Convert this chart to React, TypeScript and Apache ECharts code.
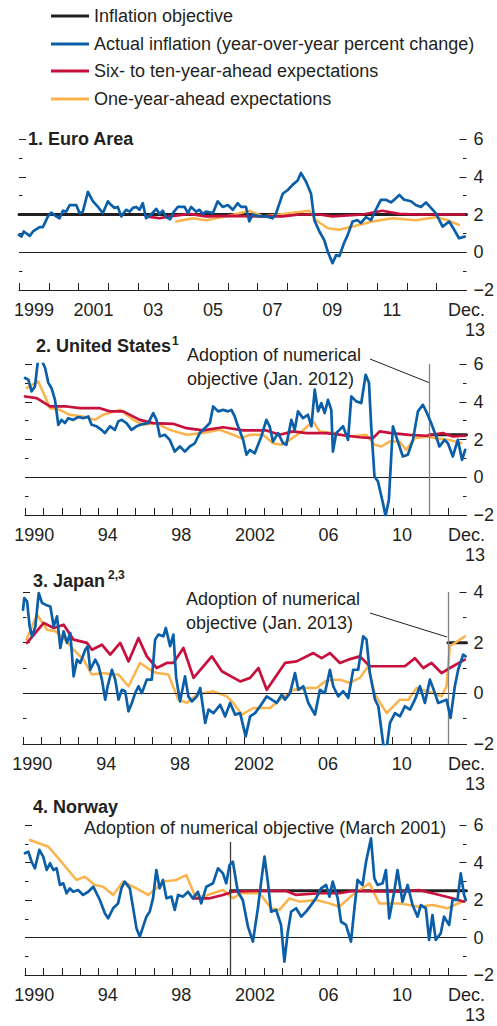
import { useEffect, useRef } from 'react';
import * as echarts from 'echarts';

const FONT = '"Liberation Sans", Arial, Helvetica, sans-serif';
const INK = '#231f20';

const NAME_OBJ = 'Inflation objective';
const NAME_ACT = 'Actual inflation (year-over-year percent change)';
const NAME_LONG = 'Six- to ten-year-ahead expectations';
const NAME_SHORT = 'One-year-ahead expectations';

const COLOR_OBJ = '#231f20';
const COLOR_ACT = '#0b5fa9';
const COLOR_LONG = '#c8103c';
const COLOR_SHORT = '#fbb34c';

// ---------- axis ticks and labels ----------
const EURO_TICKS = [1999, 2000, 2001, 2002, 2003, 2004, 2005, 2006, 2007, 2008, 2009, 2010, 2011, 2012, 2013];
const EURO_LABEL_AT = [1999.5, 2001.5, 2003.5, 2005.5, 2007.5, 2009.5, 2011.5, 2014];
const EURO_LABELS = ['1999', '2001', '03', '05', '07', '09', '11', 'Dec.\n13'];

const LONG_TICKS = [1990, 1991, 1992, 1993, 1994, 1995, 1996, 1997, 1998, 1999, 2000, 2001, 2002, 2003, 2004, 2005, 2006, 2007, 2008, 2009, 2010, 2011, 2012, 2013];
const LONG_LABEL_AT = [1990.5, 1994.5, 1998.5, 2002.5, 2006.5, 2010.5, 2014];
const LONG_LABELS = ['1990', '94', '98', '2002', '06', '10', 'Dec.\n13'];

// ---------- 1. Euro Area ----------
const EURO_OBJ = [[1999, 2], [2014, 2]];
const EURO_ACTUAL = [
  [1999.00, 0.92], [1999.08, 0.83], [1999.16, 1.10], [1999.36, 0.87], [1999.47, 1.10], [1999.69, 1.33], [1999.80, 1.33],
  [1999.97, 1.90], [2000.08, 2.10], [2000.25, 1.90], [2000.36, 1.80], [2000.47, 2.20], [2000.58, 2.15], [2000.70, 2.50],
  [2000.92, 2.50], [2001.03, 2.07], [2001.14, 2.15], [2001.31, 3.20], [2001.48, 2.70], [2001.65, 2.40], [2001.81, 2.07],
  [2001.98, 2.70], [2002.09, 2.50], [2002.20, 2.35], [2002.31, 2.40], [2002.43, 1.90], [2002.59, 2.25], [2002.71, 2.15],
  [2002.82, 2.35], [2002.93, 2.40], [2003.04, 2.25], [2003.15, 2.60], [2003.26, 1.80], [2003.43, 2.00], [2003.60, 2.30],
  [2003.71, 2.03], [2003.82, 2.20], [2003.93, 1.86], [2004.07, 1.75], [2004.16, 2.07], [2004.32, 2.40], [2004.55, 2.40],
  [2004.66, 2.07], [2004.77, 2.40], [2004.94, 2.15], [2005.05, 2.25], [2005.16, 2.03], [2005.27, 2.15], [2005.50, 2.07],
  [2005.66, 2.70], [2005.83, 2.40], [2006.00, 2.50], [2006.17, 2.25], [2006.33, 2.60], [2006.44, 2.40], [2006.61, 2.40],
  [2006.72, 1.63], [2006.83, 2.00], [2007.06, 1.90], [2007.28, 1.90], [2007.50, 1.80], [2007.62, 2.07], [2007.84, 3.10],
  [2008.01, 3.30], [2008.17, 3.57], [2008.34, 3.80], [2008.45, 4.20], [2008.62, 3.75], [2008.79, 3.10], [2008.90, 1.70],
  [2009.07, 1.10], [2009.23, 0.65], [2009.35, 0.03], [2009.51, -0.58], [2009.63, -0.15], [2009.74, -0.20], [2009.90, 0.50],
  [2010.02, 0.92], [2010.18, 1.63], [2010.35, 1.70], [2010.46, 1.55], [2010.63, 1.86], [2010.80, 1.70], [2010.96, 2.25],
  [2011.13, 2.78], [2011.30, 2.78], [2011.47, 2.64], [2011.58, 2.78], [2011.75, 3.04], [2011.91, 2.78], [2012.14, 2.70],
  [2012.30, 2.50], [2012.47, 2.40], [2012.64, 2.64], [2012.81, 2.35], [2012.97, 2.07], [2013.20, 1.36], [2013.42, 1.63],
  [2013.59, 1.19], [2013.75, 0.74], [2013.94, 0.83],
];
const EURO_LONG = [
  [2003.26, 1.90], [2003.71, 1.80], [2004.05, 1.90], [2004.72, 2.03], [2005.27, 1.90], [2006.17, 1.93], [2007.06, 1.90],
  [2007.84, 1.90], [2008.40, 2.00], [2009.07, 2.00], [2009.51, 1.90], [2010.52, 2.00], [2011.18, 2.20], [2011.75, 2.03],
  [2012.30, 2.00], [2013.94, 2.00],
];
const EURO_SHORT = [
  [2004.27, 1.63], [2004.83, 1.80], [2005.27, 1.70], [2005.94, 1.90], [2006.39, 2.07], [2006.72, 2.20], [2007.17, 1.90],
  [2007.73, 2.00], [2008.73, 2.20], [2008.96, 1.70], [2009.35, 1.27], [2009.74, 1.19], [2010.18, 1.36], [2010.85, 1.63],
  [2011.52, 1.80], [2012.30, 1.70], [2012.97, 1.86], [2013.31, 1.72], [2013.75, 1.45],
];

// ---------- 2. United States ----------
const US_ADOPTION = 2012.0;
const US_OBJ = [[2012.0, 2.25], [2014, 2.25]];
const US_ACTUAL = [
  [1990.00, 5.26], [1990.18, 5.17], [1990.36, 4.55], [1990.54, 4.81], [1990.72, 6.30], [1990.90, 6.20], [1991.09, 5.80],
  [1991.27, 5.00], [1991.45, 4.70], [1991.63, 4.10], [1991.81, 2.78], [1991.99, 3.04], [1992.17, 2.87], [1992.35, 3.13],
  [1992.62, 3.04], [1992.90, 3.19], [1993.17, 3.13], [1993.44, 3.22], [1993.62, 2.78], [1993.89, 2.70], [1994.16, 2.51],
  [1994.34, 2.34], [1994.62, 2.70], [1994.89, 2.51], [1995.07, 2.96], [1995.25, 3.04], [1995.52, 2.87], [1995.79, 2.51],
  [1996.06, 2.70], [1996.43, 2.83], [1996.70, 2.87], [1996.97, 3.40], [1997.15, 3.04], [1997.33, 2.16], [1997.60, 2.25],
  [1997.87, 1.98], [1998.14, 1.36], [1998.42, 1.63], [1998.69, 1.36], [1998.96, 1.63], [1999.23, 1.80], [1999.50, 2.34],
  [1999.77, 2.60], [2000.05, 2.87], [2000.23, 3.75], [2000.50, 3.49], [2000.77, 3.57], [2001.04, 3.49], [2001.22, 3.57],
  [2001.40, 3.22], [2001.58, 2.70], [2001.86, 1.98], [2002.04, 1.19], [2002.22, 1.45], [2002.49, 1.27], [2002.67, 1.72],
  [2002.85, 2.16], [2003.12, 3.04], [2003.30, 2.70], [2003.48, 1.89], [2003.76, 2.34], [2004.03, 1.80], [2004.21, 1.72],
  [2004.48, 3.04], [2004.66, 2.51], [2004.84, 3.49], [2005.11, 3.13], [2005.38, 3.31], [2005.57, 2.70], [2005.75, 4.64],
  [2005.93, 3.49], [2006.11, 3.93], [2006.29, 3.40], [2006.47, 4.10], [2006.65, 3.57], [2006.74, 1.36], [2006.92, 2.34],
  [2007.10, 2.51], [2007.29, 2.70], [2007.56, 1.98], [2007.74, 4.28], [2008.01, 4.02], [2008.28, 3.93], [2008.52, 5.43],
  [2008.70, 5.00], [2008.82, 2.70], [2009.00, 0.04], [2009.19, -0.23], [2009.46, -1.38], [2009.60, -2.05], [2009.78, -1.20],
  [2010.00, 2.70], [2010.18, 2.16], [2010.36, 1.63], [2010.54, 1.10], [2010.81, 1.19], [2011.09, 1.98], [2011.36, 3.49],
  [2011.63, 3.84], [2011.81, 3.49], [2012.08, 2.87], [2012.35, 2.16], [2012.53, 1.63], [2012.81, 1.98], [2012.99, 1.80],
  [2013.26, 1.10], [2013.53, 1.98], [2013.76, 0.92], [2013.93, 1.45],
];
const US_LONG = [
  [1990.00, 4.28], [1990.63, 4.19], [1991.36, 3.75], [1992.26, 3.75], [1992.99, 3.66], [1994.07, 3.66], [1994.62, 3.49],
  [1995.34, 3.49], [1996.24, 3.04], [1996.97, 2.87], [1998.05, 2.83], [1998.78, 2.60], [1999.68, 2.48], [2000.77, 2.65],
  [2001.86, 2.48], [2003.12, 2.48], [2003.85, 2.25], [2004.57, 2.43], [2005.29, 2.34], [2006.38, 2.34], [2007.10, 2.25],
  [2008.19, 2.12], [2008.91, 2.07], [2009.28, 2.43], [2009.91, 2.34], [2010.90, 2.25], [2011.81, 2.20], [2012.71, 2.34],
  [2013.26, 2.16], [2013.93, 2.20],
];
const US_SHORT = [
  [1990.09, 4.73], [1990.72, 5.08], [1991.09, 4.28], [1991.36, 3.66], [1991.90, 3.57], [1992.44, 3.31], [1993.17, 3.22],
  [1993.80, 3.04], [1994.25, 3.31], [1995.16, 3.57], [1995.52, 3.31], [1995.88, 3.04], [1996.43, 2.78], [1997.15, 2.87],
  [1997.87, 2.51], [1998.78, 2.25], [1999.68, 2.34], [2000.59, 2.51], [2001.31, 2.25], [2001.76, 2.07], [2002.22, 2.25],
  [2002.94, 2.25], [2003.48, 1.80], [2003.94, 1.72], [2004.39, 1.98], [2004.93, 2.34], [2005.66, 2.96], [2006.02, 2.43],
  [2006.74, 2.34], [2007.65, 2.16], [2008.55, 2.25], [2009.00, 1.72], [2009.37, 1.63], [2009.82, 1.89], [2010.36, 1.89],
  [2010.72, 1.45], [2011.18, 2.07], [2011.81, 2.16], [2012.35, 2.07], [2013.08, 1.98], [2013.71, 1.80],
];

// ---------- 3. Japan ----------
const JP_ADOPTION = 2013.0;
const JP_OBJ = [[2013.0, 2], [2014, 2]];
const JP_ACTUAL = [
  [1990.00, 3.30], [1990.07, 3.76], [1990.22, 3.63], [1990.36, 2.64], [1990.49, 2.25], [1990.67, 2.64], [1990.85, 3.96],
  [1991.03, 3.57], [1991.21, 3.50], [1991.48, 3.43], [1991.66, 2.64], [1991.84, 3.04], [1992.02, 1.79], [1992.20, 2.45],
  [1992.38, 1.99], [1992.56, 2.38], [1992.74, 0.67], [1992.92, 1.33], [1993.10, 1.20], [1993.37, 1.72], [1993.50, 1.86],
  [1993.64, 0.93], [1993.91, 1.33], [1994.09, 1.07], [1994.27, 0.54], [1994.45, -0.25], [1994.58, 0.28], [1994.81, 0.93],
  [1994.99, 0.54], [1995.17, -0.25], [1995.35, 0.14], [1995.53, 0.08], [1995.71, -0.71], [1995.89, -0.38], [1996.07, 0.01],
  [1996.25, 0.28], [1996.43, 0.01], [1996.70, 0.54], [1996.97, 0.54], [1997.15, 2.12], [1997.33, 2.32], [1997.60, 2.25],
  [1997.73, 2.58], [1997.96, 1.86], [1998.14, 2.32], [1998.29, 0.61], [1998.50, -0.32], [1998.77, 0.67], [1998.95, -0.12],
  [1999.14, -0.32], [1999.41, -0.12], [1999.59, 0.21], [1999.86, -1.17], [2000.04, -0.64], [2000.31, -0.78], [2000.67, -0.45],
  [2000.94, -0.91], [2001.21, -0.38], [2001.48, -0.84], [2001.75, -0.78], [2002.05, -1.70], [2002.29, -0.91], [2002.56, -0.78],
  [2002.83, -0.51], [2003.19, -0.12], [2003.46, -0.25], [2003.73, -0.38], [2004.00, -0.05], [2004.18, -0.25], [2004.45, 0.01],
  [2004.72, 0.80], [2004.90, 0.14], [2005.17, 0.28], [2005.44, -0.38], [2005.80, -0.84], [2006.07, 0.14], [2006.34, 0.01],
  [2006.61, 0.93], [2006.79, 0.28], [2007.06, -0.12], [2007.33, 0.08], [2007.60, -0.18], [2007.87, 0.93], [2008.14, 0.93],
  [2008.41, 2.25], [2008.59, 2.12], [2008.77, 0.80], [2009.05, -0.25], [2009.23, -0.51], [2009.50, -2.03], [2009.68, -2.16],
  [2009.86, -1.17], [2010.13, -0.78], [2010.40, -0.91], [2010.67, -0.51], [2010.94, -0.64], [2011.21, -0.25], [2011.48, 0.28],
  [2011.75, -0.38], [2012.02, 0.54], [2012.29, 0.01], [2012.47, -0.38], [2012.92, -0.25], [2013.14, -0.97], [2013.37, 0.28],
  [2013.55, 0.93], [2013.82, 1.53], [2013.95, 1.46],
];
const JP_LONG = [
  [1990.22, 1.99], [1991.12, 2.78], [1991.66, 2.58], [1992.20, 2.71], [1992.74, 2.12], [1993.46, 1.99], [1993.73, 1.72],
  [1994.27, 1.92], [1994.72, 1.53], [1995.26, 1.99], [1995.71, 1.26], [1996.25, 2.18], [1996.70, 1.46], [1997.24, 1.00],
  [1997.78, 1.20], [1998.14, 1.20], [1998.68, 1.79], [1999.23, 0.61], [2000.22, 1.46], [2000.76, 0.87], [2001.75, 0.47],
  [2002.29, 0.61], [2002.74, 1.00], [2003.19, 0.14], [2004.18, 1.20], [2004.81, 1.26], [2005.71, 1.59], [2006.16, 1.39],
  [2006.61, 1.59], [2007.15, 1.20], [2007.60, 1.33], [2008.23, 1.46], [2008.77, 1.07], [2009.86, 1.07], [2010.67, 1.07],
  [2011.21, 1.39], [2011.66, 1.00], [2012.11, 1.20], [2012.65, 0.80], [2013.10, 1.00], [2013.91, 1.33],
];
const JP_SHORT = [
  [1990.18, 2.12], [1990.76, 3.10], [1991.30, 2.51], [1991.75, 2.45], [1992.20, 2.18], [1992.74, 1.72], [1993.28, 1.33],
  [1993.73, 0.74], [1994.36, 0.80], [1994.81, 0.74], [1995.17, 0.74], [1995.71, 0.28], [1996.34, 1.20], [1996.88, 0.93],
  [1997.24, 0.80], [1997.87, 0.74], [1998.41, -0.25], [1998.86, -0.38], [1999.41, -0.05], [2000.31, 0.08], [2001.03, -0.12],
  [2001.39, -0.38], [2001.84, -0.84], [2002.47, -0.58], [2003.37, -0.58], [2003.91, -0.25], [2004.63, 0.14], [2005.35, 0.21],
  [2005.89, 0.21], [2006.34, 0.47], [2006.79, 0.54], [2007.15, 0.54], [2007.69, 0.41], [2008.23, 0.61], [2008.68, 1.07],
  [2009.05, -0.05], [2009.68, -0.78], [2010.40, -0.25], [2010.85, -0.25], [2011.30, 0.21], [2011.84, 0.08], [2012.20, 0.01],
  [2012.65, -0.12], [2012.92, 0.28], [2013.10, 1.86], [2013.37, 1.99], [2013.91, 2.25],
];

// ---------- 4. Norway ----------
const NO_ADOPTION = 2001.17;
const NO_ADOPTION_TOP = 5.1;
const NO_OBJ = [[2001.17, 2.5], [2014, 2.5]];
const NO_ACTUAL = [
  [1990.00, 4.49], [1990.18, 4.58], [1990.36, 4.04], [1990.54, 3.69], [1990.78, 4.67], [1990.99, 4.31], [1991.18, 3.60],
  [1991.36, 3.96], [1991.54, 3.60], [1991.72, 3.69], [1991.90, 2.80], [1992.08, 2.89], [1992.26, 2.36], [1992.44, 2.62],
  [1992.62, 2.44], [1992.89, 2.53], [1993.16, 2.27], [1993.44, 2.44], [1993.71, 2.71], [1994.07, 2.00], [1994.34, 1.29],
  [1994.52, 1.02], [1994.79, 1.56], [1995.06, 1.82], [1995.24, 2.62], [1995.42, 2.98], [1995.70, 2.62], [1995.88, 1.56],
  [1996.06, 0.49], [1996.24, 0.04], [1996.42, 0.58], [1996.60, 1.11], [1996.78, 1.38], [1996.96, 2.09], [1997.14, 3.60],
  [1997.32, 2.62], [1997.50, 3.07], [1997.69, 2.09], [1997.96, 2.18], [1998.14, 1.47], [1998.32, 2.27], [1998.59, 2.18],
  [1998.86, 2.44], [1999.13, 2.09], [1999.40, 2.44], [1999.58, 1.82], [1999.86, 2.71], [2000.22, 2.89], [2000.49, 3.69],
  [2000.76, 3.42], [2000.94, 2.89], [2001.12, 3.87], [2001.30, 4.04], [2001.57, 2.44], [2001.84, 2.00], [2002.12, 0.58],
  [2002.39, -0.22], [2002.66, 1.56], [2002.84, 2.98], [2003.02, 4.31], [2003.20, 2.98], [2003.38, 1.38], [2003.65, 1.47],
  [2003.92, 0.67], [2004.10, -1.29], [2004.29, 0.31], [2004.47, 1.38], [2004.74, 1.56], [2005.01, 1.11], [2005.28, 1.38],
  [2005.55, 1.73], [2005.82, 2.09], [2006.09, 2.62], [2006.37, 2.80], [2006.55, 2.18], [2006.73, 2.98], [2007.00, 2.09],
  [2007.18, 0.84], [2007.45, 0.67], [2007.72, -0.22], [2007.90, 1.47], [2008.08, 3.07], [2008.35, 2.80], [2008.54, 4.04],
  [2008.81, 5.29], [2008.99, 3.16], [2009.17, 2.80], [2009.44, 2.89], [2009.62, 3.60], [2009.80, 1.02], [2010.07, 2.44],
  [2010.25, 3.60], [2010.52, 1.91], [2010.80, 2.80], [2011.07, 1.73], [2011.34, 1.11], [2011.52, 1.73], [2011.79, 1.56],
  [2011.97, -0.13], [2012.15, 1.20], [2012.33, -0.13], [2012.60, 0.22], [2012.78, 1.11], [2013.06, 0.67], [2013.24, 2.00],
  [2013.51, 2.00], [2013.69, 3.42], [2013.87, 2.27], [2013.96, 2.00],
];
const NO_LONG = [
  [1999.13, 2.09], [2000.04, 2.09], [2000.76, 2.27], [2001.30, 2.44], [2002.39, 2.48], [2004.20, 2.48], [2004.74, 2.27],
  [2006.00, 2.36], [2007.09, 2.36], [2007.81, 2.48], [2010.34, 2.44], [2011.43, 2.53], [2012.15, 2.36], [2013.24, 2.09],
  [2013.87, 1.91],
];
const NO_SHORT = [
  [1990.27, 5.20], [1991.27, 4.84], [1991.90, 4.13], [1992.80, 3.07], [1993.25, 3.24], [1993.80, 2.80], [1994.25, 2.71],
  [1994.79, 2.27], [1995.33, 2.98], [1996.06, 2.62], [1996.69, 2.27], [1997.14, 2.62], [1997.50, 2.98], [1998.23, 3.07],
  [1998.77, 3.33], [1999.22, 2.27], [1999.67, 2.18], [2000.22, 2.36], [2000.76, 2.53], [2001.30, 2.09], [2001.75, 2.36],
  [2002.75, 2.36], [2003.38, 1.56], [2003.83, 1.47], [2004.38, 2.09], [2004.92, 1.91], [2005.82, 2.00], [2006.55, 1.82],
  [2007.09, 1.64], [2007.81, 2.27], [2008.72, 2.89], [2009.26, 1.82], [2010.34, 1.82], [2011.43, 1.64], [2012.15, 1.73],
  [2012.97, 1.56], [2013.96, 2.00],
];

type Panel = {
  grid: { left: number; top: number; width: number; height: number };
  xMin: number; xMax: number; yMin: number; yMax: number;
  ticks: number[]; labelAt: number[]; labels: string[];
  obj: number[][]; actual: number[][]; long: number[][]; short: number[][];
  adoption: any[] | null; adoptionColor: string;
};

const PANELS: Panel[] = [
  {
    grid: { left: 19, top: 139, width: 448, height: 151 },
    xMin: 1999, xMax: 2014, yMin: -2, yMax: 6,
    ticks: EURO_TICKS, labelAt: EURO_LABEL_AT, labels: EURO_LABELS,
    obj: EURO_OBJ, actual: EURO_ACTUAL, long: EURO_LONG, short: EURO_SHORT,
    adoption: null, adoptionColor: '#808285',
  },
  {
    grid: { left: 25, top: 364, width: 442, height: 151 },
    xMin: 1990, xMax: 2014, yMin: -2, yMax: 6,
    ticks: LONG_TICKS, labelAt: LONG_LABEL_AT, labels: LONG_LABELS,
    obj: US_OBJ, actual: US_ACTUAL, long: US_LONG, short: US_SHORT,
    adoption: [{ xAxis: US_ADOPTION }], adoptionColor: '#808285',
  },
  {
    grid: { left: 23, top: 592, width: 444, height: 152 },
    xMin: 1990, xMax: 2014, yMin: -2, yMax: 4,
    ticks: LONG_TICKS, labelAt: LONG_LABEL_AT, labels: LONG_LABELS,
    obj: JP_OBJ, actual: JP_ACTUAL, long: JP_LONG, short: JP_SHORT,
    adoption: [{ xAxis: JP_ADOPTION }], adoptionColor: '#808285',
  },
  {
    grid: { left: 25, top: 825, width: 442, height: 150 },
    xMin: 1990, xMax: 2014, yMin: -2, yMax: 6,
    ticks: LONG_TICKS, labelAt: LONG_LABEL_AT, labels: LONG_LABELS,
    obj: NO_OBJ, actual: NO_ACTUAL, long: NO_LONG, short: NO_SHORT,
    adoption: [[{ coord: [NO_ADOPTION, -2] }, { coord: [NO_ADOPTION, NO_ADOPTION_TOP] }]], adoptionColor: '#3a3a3c',
  },
];

function yAxisFor(i: number, p: Panel, right: boolean) {
  return {
    gridIndex: i,
    type: 'value',
    position: right ? 'right' : 'left',
    min: p.yMin,
    max: p.yMax,
    interval: 2,
    axisLine: { show: false },
    axisTick: { show: true, inside: true, length: 7, lineStyle: { color: INK, width: 1 } },
    minorTick: { show: true, splitNumber: 2, length: 3.5, lineStyle: { color: INK, width: 1 } },
    splitLine: { show: false },
    minorSplitLine: { show: false },
    axisLabel: {
      show: right,
      margin: 7,
      fontSize: 18,
      fontFamily: FONT,
      color: INK,
      formatter: (v: number) => (v < 0 ? '\u2212' + Math.abs(v) : String(v)),
    },
  };
}

function xAxisFor(i: number, p: Panel) {
  return {
    gridIndex: i,
    type: 'value',
    min: p.xMin,
    max: p.xMax,
    axisLine: { show: true, onZero: false, lineStyle: { color: INK, width: 1 } },
    axisTick: { show: true, inside: true, length: 7, customValues: p.ticks, lineStyle: { color: INK, width: 1 } },
    splitLine: { show: false },
    axisLabel: {
      show: true,
      customValues: p.labelAt,
      margin: 10,
      fontSize: 18,
      lineHeight: 20,
      fontFamily: FONT,
      color: INK,
      formatter: (v: number) => {
        const idx = p.labelAt.indexOf(v);
        const t = idx >= 0 ? p.labels[idx] : '';
        if (t.indexOf('\n') >= 0) {
          const parts = t.split('\n');
          return '{r|' + parts[0] + '}\n{r|' + parts[1] + '}';
        }
        return t;
      },
      rich: {
        r: { align: 'right', fontSize: 18, lineHeight: 20, fontFamily: FONT, color: INK },
      },
    },
  };
}

function lineSeries(name: string, data: number[][], i: number, color: string, width: number, z: number, extra: any = {}) {
  return {
    name,
    type: 'line',
    xAxisIndex: i,
    yAxisIndex: i * 2,
    data,
    showSymbol: false,
    symbol: 'none',
    silent: true,
    z,
    lineStyle: { color, width, cap: 'round', join: 'round' },
    itemStyle: { color },
    emphasis: { disabled: true },
    ...extra,
  };
}

function buildOption() {
  const grids: any[] = [];
  const xAxes: any[] = [];
  const yAxes: any[] = [];
  const series: any[] = [];

  PANELS.forEach((p, i) => {
    grids.push({ ...p.grid, show: false });
    xAxes.push(xAxisFor(i, p));
    yAxes.push(yAxisFor(i, p, false));
    yAxes.push(yAxisFor(i, p, true));

    series.push(
      lineSeries(NAME_OBJ, p.obj, i, COLOR_OBJ, 3, 2, {
        markLine: {
          silent: true,
          symbol: ['none', 'none'],
          label: { show: false },
          emphasis: { disabled: true },
          lineStyle: { color: INK, width: 1, type: 'solid' },
          data: [{ yAxis: 0 }],
        },
      })
    );
    series.push(
      lineSeries(NAME_SHORT, p.short, i, COLOR_SHORT, 2.5, 3,
        p.adoption
          ? {
              markLine: {
                silent: true,
                symbol: ['none', 'none'],
                label: { show: false },
                emphasis: { disabled: true },
                lineStyle: { color: p.adoptionColor, width: 1.3, type: 'solid' },
                data: p.adoption,
              },
            }
          : {}
      )
    );
    series.push(lineSeries(NAME_LONG, p.long, i, COLOR_LONG, 2.7, 4));
    series.push(lineSeries(NAME_ACT, p.actual, i, COLOR_ACT, 2.7, 5));
  });

  const legendNames = [NAME_OBJ, NAME_ACT, NAME_LONG, NAME_SHORT];
  const legendTops = [6, 34, 61, 89];
  const legends = legendNames.map((n, k) => ({
    left: 51,
    top: legendTops[k],
    orient: 'vertical',
    padding: 0,
    itemGap: 0,
    itemWidth: 38,
    itemHeight: 3,
    icon: 'rect',
    selectedMode: false,
    data: [n],
    textStyle: { fontSize: 18, lineHeight: 20, fontFamily: FONT, color: INK },
  }));

  const txt = (x: number, y: number, text: string, font: string, align = 'left') => ({
    type: 'text',
    x,
    y,
    silent: true,
    style: { text, font, fill: INK, textAlign: align, textVerticalAlign: 'middle' },
  });
  const bold = `bold 18px ${FONT}`;
  const reg = `18px ${FONT}`;
  const sup = `bold 12px ${FONT}`;

  const graphic = [
    txt(28, 139, '1. Euro Area', bold),
    txt(36, 346, '2. United States', bold),
    txt(172, 341, '1', sup),
    txt(33, 581, '3. Japan', bold),
    txt(108, 575, '2,3', sup),
    txt(33, 807, '4. Norway', bold),
    txt(187, 355, 'Adoption of numerical', reg),
    txt(187, 379, 'objective (Jan. 2012)', reg),
    txt(186, 599, 'Adoption of numerical', reg),
    txt(186, 623, 'objective (Jan. 2013)', reg),
    txt(84, 828, 'Adoption of numerical objective (March 2001)', reg),
    { type: 'line', silent: true, shape: { x1: 370, y1: 359, x2: 430, y2: 383 }, style: { stroke: INK, lineWidth: 1 } },
    { type: 'line', silent: true, shape: { x1: 370, y1: 613, x2: 447, y2: 637 }, style: { stroke: INK, lineWidth: 1 } },
  ];

  return {
    animation: false,
    backgroundColor: '#ffffff',
    textStyle: { fontFamily: FONT, color: INK },
    legend: legends,
    grid: grids,
    xAxis: xAxes,
    yAxis: yAxes,
    series,
    graphic,
  };
}

export default function App() {
  const ref = useRef<HTMLDivElement>(null);
  useEffect(() => {
    if (!ref.current) return;
    const chart = echarts.init(ref.current, null, { renderer: 'svg' });
    chart.setOption(buildOption() as any);
    return () => chart.dispose();
  }, []);
  return (
    <div
      ref={ref}
      style={{ position: 'absolute', left: 0, top: 0, width: 497, height: 1026, background: '#fff' }}
    />
  );
}
